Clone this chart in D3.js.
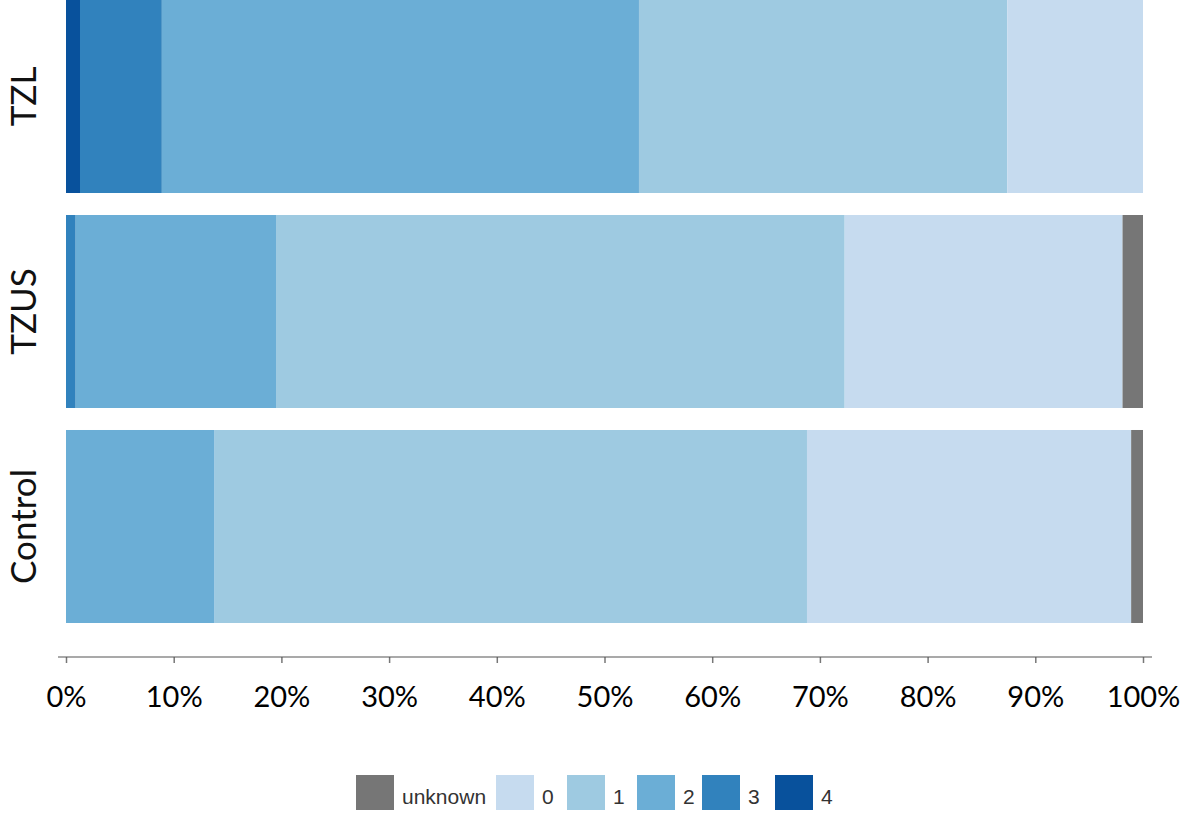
<!DOCTYPE html>
<html>
<head>
<meta charset="utf-8">
<script src="https://cdn.jsdelivr.net/npm/d3@7"></script>
<style>
  body { margin: 0; background: #fff; }
  svg { display: block; }
</style>
</head>
<body>
<div id="chart"></div>
<script>
// groups, top to bottom
const groups = ["TZL", "TZUS", "Control"];
// stacking order, left to right
const levels = ["4", "3", "2", "1", "0", "unknown"];
// legend order
const legendOrder = ["unknown", "0", "1", "2", "3", "4"];
const levelColors = ["#08519c", "#3182bd", "#6baed6", "#9ecae1", "#c6dbef", "#767676"];

// shares in %, same order as levels
const tzlValues = [1.3, 7.6, 44.3, 34.2, 12.6, 0];
const tzusValues = [0, 0.9, 18.6, 52.8, 25.8, 1.9];
const controlValues = [0, 0, 13.8, 55.0, 30.1, 1.1];
const tickValues = [0, 10, 20, 30, 40, 50, 60, 70, 80, 90, 100];

const width = 1181, height = 817;
const svg = d3.select('#chart').append('svg')
    .attr('width', width)
    .attr('height', height);

const rows = [tzlValues, tzusValues, controlValues].map((vals, i) => {
    const row = { group: groups[i] };
    levels.forEach((l, j) => row[l] = vals[j]);
    return row;
});

const x = d3.scaleLinear().domain([0, 100]).range([66, 1143]);
const y = d3.scaleBand().domain(groups).range([0, 623]).paddingInner(0.1023).paddingOuter(0);
const color = d3.scaleOrdinal().domain(levels).range(levelColors);

const stacked = d3.stack().keys(levels)(rows);

svg.append('g')
    .selectAll('g')
    .data(stacked)
    .enter().append('g')
    .attr('fill', d => color(d.key))
    .selectAll('rect')
    .data(d => d)
    .enter().append('rect')
    .attr('x', d => x(d[0]))
    .attr('y', d => y(d.data.group))
    .attr('width', d => Math.max(0, x(d[1]) - x(d[0])))
    .attr('height', y.bandwidth());

// group labels, rotated
groups.forEach(g => {
    const cy = y(g) + y.bandwidth() / 2;
    svg.append('text')
        .attr('transform', 'translate(36,' + cy + ') rotate(-90)')
        .attr('text-anchor', 'middle')
        .style('font-family', 'Lato, "Open Sans", sans-serif')
        .style('font-size', '35px')
        .style('fill', '#111')
        .text(g);
});

// x axis
const axis = d3.axisBottom(x)
    .tickValues(tickValues)
    .tickFormat(d => d + '%')
    .tickSize(6)
    .tickSizeOuter(0);

const gx = svg.append('g')
    .attr('transform', 'translate(0,657)')
    .call(axis);
gx.select('.domain').remove();
gx.append('line')
    .attr('x1', 58).attr('x2', 1152)
    .attr('y1', 0).attr('y2', 0)
    .attr('stroke', '#555')
    .attr('stroke-width', 1.2);
gx.selectAll('.tick line').attr('stroke', '#777').attr('stroke-width', 1.5);
gx.selectAll('.tick text')
    .attr('y', 50)
    .attr('dy', 0)
    .style('font-family', 'Lato, "Open Sans", sans-serif')
    .style('font-size', '29px')
    .style('fill', '#000');

// legend
const legendX = { "unknown": 356, "0": 496, "1": 567, "2": 637, "3": 702, "4": 775 };
const legend = svg.append('g');
legendOrder.forEach(k => {
    legend.append('rect')
        .attr('x', legendX[k])
        .attr('y', 775)
        .attr('width', 38)
        .attr('height', 35)
        .attr('fill', color(k));
    legend.append('text')
        .attr('x', legendX[k] + 46)
        .attr('y', 804)
        .style('font-family', '"Liberation Sans", Arial, sans-serif')
        .style('font-size', '21px')
        .style('fill', '#333')
        .text(k);
});
</script>
</body>
</html>
